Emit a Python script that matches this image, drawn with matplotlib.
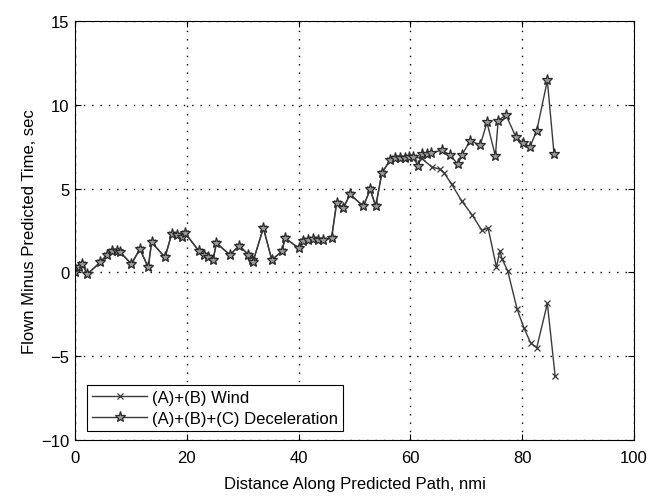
import numpy as np
import matplotlib.pyplot as plt

# deceleration model points (stars)
dist_decel = [0.0, 0.8, 1.3, 2.2, 4.5, 5.7, 6.6, 7.5, 8.1, 10.1, 11.6, 13.1, 13.7, 16.1,
              17.3, 18.2, 19.1, 19.7, 22.1, 23.0, 23.8, 24.7, 25.3, 27.7, 29.4, 31.0,
              31.6, 31.8, 33.7, 35.2, 37.0, 37.6, 40.0, 40.8, 41.7, 42.6, 43.5, 44.4,
              45.9, 46.8, 48.0, 49.2, 51.6, 52.8, 53.8, 54.9, 56.4, 57.3, 58.2, 59.0,
              59.8, 60.4, 61.4, 62.0, 62.9, 63.6, 65.6, 67.1, 68.5, 69.2, 70.7, 72.5,
              73.7, 75.2, 75.7, 77.1, 78.9, 80.2, 81.4, 82.6, 84.5, 85.7]
dt_decel = [0.0, 0.3, 0.5, -0.1, 0.6, 1.05, 1.25, 1.3, 1.2, 0.5, 1.4, 0.3, 1.8, 0.9,
            2.3, 2.25, 2.1, 2.35, 1.3, 1.05, 0.9, 0.75, 1.75, 1.05, 1.6, 1.05,
            0.75, 0.6, 2.65, 0.75, 1.25, 2.05, 1.45, 1.85, 1.95, 2.0, 1.95, 1.95,
            2.05, 4.15, 3.85, 4.65, 3.95, 4.95, 3.95, 5.95, 6.7, 6.8, 6.85, 6.85,
            6.9, 6.9, 6.35, 7.05, 7.05, 7.1, 7.3, 7.0, 6.45, 7.0, 7.85, 7.6,
            8.95, 6.95, 9.05, 9.4, 8.05, 7.7, 7.5, 8.45, 11.45, 7.05]

# wind-only model: same as above up to ~60 nmi, then it drops off
n_shared = 52
dist_wind = dist_decel[:n_shared] + [62.0, 63.8, 65.3, 66.0, 67.4, 69.2, 71.0, 72.8, 73.9,
                                     75.4, 76.0, 76.4, 77.4, 79.1, 80.3, 81.5, 82.6, 84.5, 85.9]
dt_wind = dt_decel[:n_shared] + [6.8, 6.3, 6.15, 5.95, 5.25, 4.25, 3.45, 2.5, 2.65,
                                 0.3, 1.3, 0.8, 0.1, -2.2, -3.3, -4.2, -4.5, -1.85, -6.2]

labels = ['(A)+(B) Wind', '(A)+(B)+(C) Deceleration']

plt.rcParams['font.family'] = ['Liberation Sans', 'DejaVu Sans']
plt.rcParams['font.size'] = 12

fig = plt.figure(figsize=(6.54, 5.02), dpi=100)
ax = fig.add_axes([0.1147, 0.1215, 0.8547, 0.8347])

ax.plot(dist_wind, dt_wind, color='#3a3a3a', lw=1, marker='x', ms=5, mew=0.9, label=labels[0])
ax.plot(dist_decel, dt_decel, color='#3a3a3a', lw=1, marker='*', ms=8, mew=0.9,
        mfc='#9a9a9a', mec='#2a2a2a', label=labels[1])

ax.set_xlim(0, 100)
ax.set_ylim(-10, 15)
ax.set_xticks(np.arange(0, 101, 20))
ax.set_yticks(np.arange(-10, 16, 5))
ax.grid(True, color='black', linestyle=(0, (1, 5)), linewidth=1)
ax.tick_params(direction='in', top=True, right=True, length=4, width=0.8, labelsize=12)
ax.tick_params(axis='x', pad=7)
ax.tick_params(axis='y', pad=4)
for s in ax.spines.values():
    s.set_linewidth(0.8)

ax.set_xlabel('Distance Along Predicted Path, nmi', fontsize=12, labelpad=8)
ax.set_ylabel('Flown Minus Predicted Time, sec', fontsize=12, labelpad=3)

leg = ax.legend(loc='lower left', bbox_to_anchor=(0.022, 0.022), borderaxespad=0,
                fancybox=False, edgecolor='black', framealpha=1, handlelength=3.3,
                fontsize=12, borderpad=0.3, labelspacing=0.35, handletextpad=0.3)
leg.get_frame().set_linewidth(0.8)

plt.savefig('out.png', dpi=100)
